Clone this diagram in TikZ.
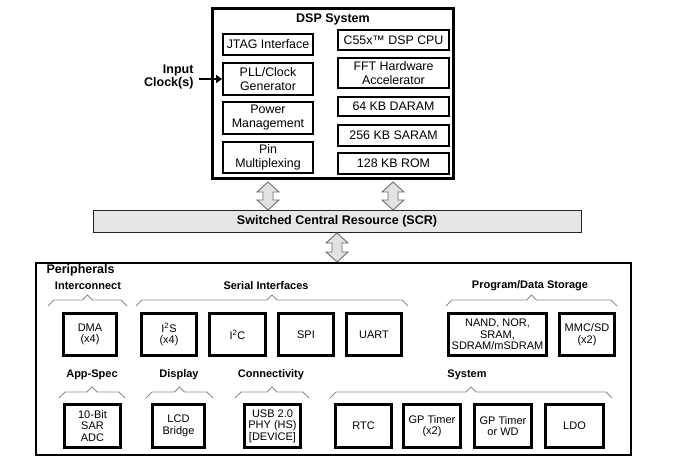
\documentclass[tikz,border=0pt]{standalone}
\usepackage{fontspec}
\setmainfont{Liberation Sans}
\usetikzlibrary{arrows.meta,calc}
\definecolor{scrfill}{HTML}{E6E6E6}
\definecolor{arrfill}{HTML}{E2E2E2}
\definecolor{arrline}{HTML}{6E6E6E}
\definecolor{brace}{HTML}{8A8A8A}
\newcommand{\mydbl}[3]{%
  \filldraw[fill=arrfill,draw=arrline,line width=0.9pt,line join=miter]
    (#1,#2) -- ++(11,10) -- ++(-6,0) -- (#1+5,#3-10) -- ++(6,0) -- (#1,#3)
    -- ++(-11,-10) -- ++(6,0) -- (#1-5,#2+10) -- ++(-6,0) -- cycle;}
\newcommand{\mybrace}[3]{%
  \draw[brace,line width=0.8pt] (#1,#3+6) -- (#1+6,#3) -- ({(#1+#2)/2-5},#3)
    -- ({(#1+#2)/2},#3-5) -- ({(#1+#2)/2+5},#3) -- (#2-6,#3) -- (#2,#3+6);}
\tikzset{
  dspin/.style={draw,line width=1.8pt,align=center,inner sep=0pt,
    font=\fontsize{12.4}{14}\selectfont},
  perbox/.style={draw,line width=2.8pt,align=center,inner sep=0pt,
    font=\fontsize{11}{11.5}\selectfont},
  grp/.style={font=\fontsize{11}{13}\selectfont\bfseries},
  ttl/.style={font=\fontsize{12.5}{14}\selectfont\bfseries},
}
\begin{document}
\begin{tikzpicture}[x=1pt,y=-1pt]
\useasboundingbox (0,0) rectangle (676,467);
% DSP system
\node[draw,line width=2.8pt,minimum width=241,minimum height=170,inner sep=0pt] (dsp) at (333,93.5) {};
\node[ttl] (dsptitle) at (333,19) {DSP System};
\node[dspin,minimum width=90,minimum height=21] (jtag) at (268,44.5) {JTAG Interface};
\node[dspin,minimum width=90,minimum height=32] (pll) at (268,79) {PLL/Clock\\Generator};
\node[dspin,minimum width=90,minimum height=32] (pwr) at (268,118) {Power\\Management};
\node[dspin,minimum width=90,minimum height=31] (pin) at (268,157.5) {Pin\\Multiplexing};
\node[dspin,minimum width=111,minimum height=20] (cpu) at (393.5,40) {C55x™ DSP CPU};
\node[dspin,minimum width=111,minimum height=30] (fft) at (393.5,73) {FFT Hardware\\Accelerator};
\node[dspin,minimum width=111,minimum height=19] (daram) at (393.5,106.5) {64 KB DARAM};
\node[dspin,minimum width=111,minimum height=21] (saram) at (393.5,135.5) {256 KB SARAM};
\node[dspin,minimum width=111,minimum height=21] (rom) at (393.5,163.5) {128 KB ROM};
% input clock
\node[ttl,align=right,anchor=east,font=\fontsize{12.5}{13}\selectfont\bfseries] (clk) at (197,76.5) {Input\\Clock(s)};
\coordinate (clkstart) at (199,79);
\draw[line width=2.6pt,-{Triangle[length=6pt,width=8pt]}] (clkstart) -- (pll.west);
% SCR
\node[draw=black!85,fill=scrfill,line width=1pt,minimum width=488,minimum height=22,inner sep=0pt] (scr) at (337,221) {};
\node[ttl] (scrtext) at (337,221) {Switched Central Resource (SCR)};
\mydbl{268}{182}{210}
\mydbl{393}{182}{210}
\mydbl{337}{233}{262}
% Peripherals
\node[draw,line width=2pt,minimum width=595,minimum height=192,inner sep=0pt] (per) at (333,358.5) {};
\node[ttl,anchor=west] (pertitle) at (43,270.5) {Peripherals};
% group labels row 1
\node[grp] (g1) at (88,286) {Interconnect};
\node[grp] (g2) at (266,286) {Serial Interfaces};
\node[grp] (g3) at (530,286) {Program/Data Storage};
\mybrace{48}{127}{300}
\mybrace{136}{408}{300}
\mybrace{446}{617}{300}
% row 1 boxes
\node[perbox,minimum width=53,minimum height=42] (dma) at (90,334.5) {DMA\\(x4)};
\node[perbox,minimum width=55,minimum height=42] (i2s) at (169,334.5) {I\textsuperscript{2}S\\(x4)};
\node[perbox,minimum width=56,minimum height=42] (i2c) at (237.5,334.5) {I\textsuperscript{2}C};
\node[perbox,minimum width=55,minimum height=42] (spi) at (306,334.5) {SPI};
\node[perbox,minimum width=55,minimum height=42] (uart) at (374,334.5) {UART};
\node[perbox,minimum width=98,minimum height=42] (nand) at (497.5,334.5) {NAND, NOR,\\SRAM,\\SDRAM/mSDRAM};
\node[perbox,minimum width=55,minimum height=42] (mmc) at (587,334.5) {MMC/SD\\(x2)};
% group labels row 2
\node[grp] (g4) at (92,375) {App-Spec};
\node[grp] (g5) at (179,375) {Display};
\node[grp] (g6) at (271,375) {Connectivity};
\node[grp] (g7) at (467,375) {System};
\mybrace{59}{125}{392}
\mybrace{146}{213}{392}
\mybrace{235}{309}{392}
\mybrace{330}{612}{392}
% row 2 boxes
\node[perbox,minimum width=56,minimum height=43] (adc) at (92.5,426) {10-Bit\\SAR\\ADC};
\node[perbox,minimum width=52,minimum height=43] (lcd) at (178.5,426) {LCD\\Bridge};
\node[perbox,minimum width=56,minimum height=43] (usb) at (272.5,426) {USB 2.0\\PHY (HS)\\{[DEVICE]}};
\node[perbox,minimum width=56,minimum height=43] (rtc) at (363.5,426) {RTC};
\node[perbox,minimum width=57,minimum height=43,font=\fontsize{11}{10.5}\selectfont] (gp2) at (432,426) {GP Timer\\(x2)};
\node[perbox,minimum width=57,minimum height=43,font=\fontsize{11}{10.5}\selectfont] (gpwd) at (503,426) {GP Timer\\or WD};
\node[perbox,minimum width=58,minimum height=43] (ldo) at (574.5,426) {LDO};
\end{tikzpicture}
\end{document}
